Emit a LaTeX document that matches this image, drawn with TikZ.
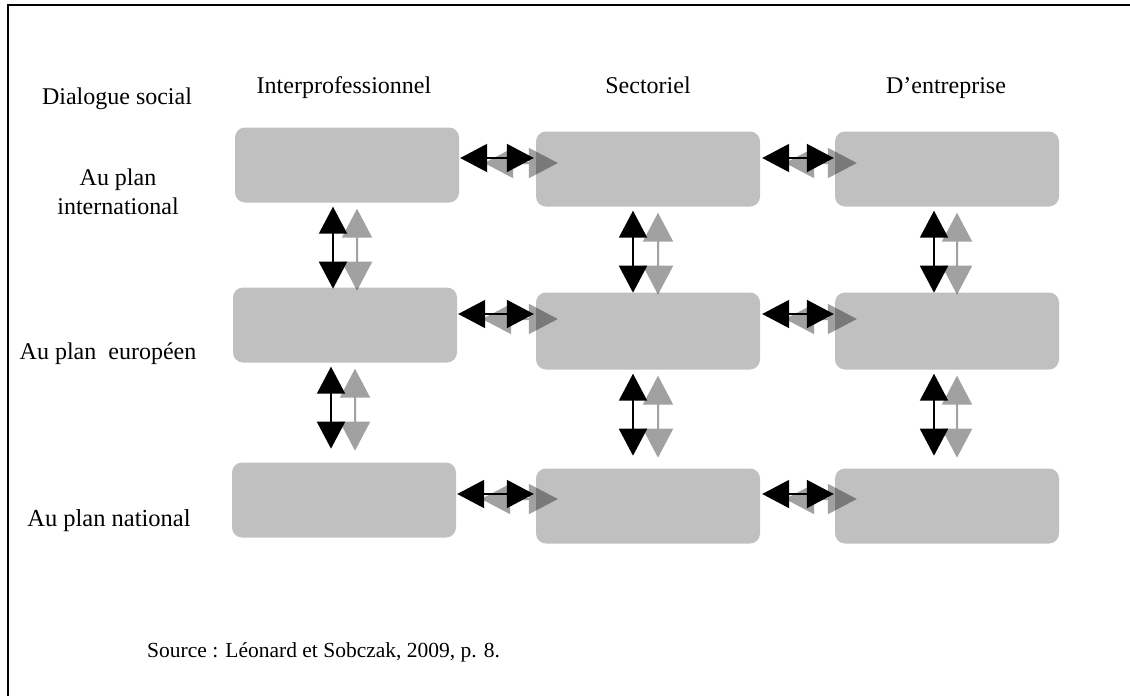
\documentclass[tikz,border=0pt]{standalone}
\usepackage{fontspec}
\setmainfont{Liberation Serif}
\usetikzlibrary{arrows.meta,calc}
\definecolor{boxgray}{HTML}{C0C0C0}
\begin{document}
\begin{tikzpicture}[x=1pt,y=-1pt,
    cell/.style={fill=boxgray,rounded corners=10pt,minimum width=224pt,minimum height=75pt,inner sep=0pt},
    lbl/.style={font=\fontsize{24}{29}\selectfont,align=center,inner sep=0pt},
    blk/.style={line width=2pt,{Triangle[length=27pt,width=28pt]}-{Triangle[length=27pt,width=28pt]}},
    gry/.style={line width=2pt,{Triangle[length=29pt,width=30pt]}-{Triangle[length=29pt,width=30pt]}}]
    \useasboundingbox (0,0) rectangle (1130,696);
    \draw[line width=2pt] (7.5,696) -- (7.5,4.5) -- (1130,4.5);

    % headings
    \node[lbl,anchor=base] (dlg) at (117,104) {Dialogue social};
    \node[lbl,anchor=base] (interp) at (344,93) {Interprofessionnel};
    \node[lbl,anchor=base] (sect) at (648,93) {Sectoriel};
    \node[lbl,anchor=base] (entr) at (946,93) {D’entreprise};

    \node[lbl] (intl) at (118,192) {Au plan\\international};
    \node[lbl] (euro) at (108,354) {Au plan\ \ européen};
    \node[lbl,font=\fontsize{24.5}{29}\selectfont] (natl) at (109,521) {Au plan national};

    % boxes
    \node[cell] (A1) at (347,165) {};
    \node[cell] (B1) at (648,169) {};
    \node[cell] (C1) at (947,169) {};

    \node[cell] (A2) at (345,325) {};
    \node[cell,minimum height=77pt] (B2) at (648,331) {};
    \node[cell,minimum height=77pt] (C2) at (947,331) {};

    \node[cell] (A3) at (344,500) {};
    \node[cell] (B3) at (648,506) {};
    \node[cell] (C3) at (947,506) {};

    % grey arrows
    \begin{scope}[transparency group,opacity=0.37]
    \draw[gry] ($(A1.east)+(25,-2)$) -- ($(A1.east -| B1.west)+(22,-2)$);
    \draw[gry] ($(A1.east -| B1.east)+(25,-2)$) -- ($(A1.east -| C1.west)+(22,-2)$);
    \draw[gry] ($(A2.east)+(25,-6)$) -- ($(A2.east -| B2.west)+(22,-6)$);
    \draw[gry] ($(A2.east -| B2.east)+(25,-6)$) -- ($(A2.east -| C2.west)+(22,-6)$);
    \draw[gry] ($(A3.east)+(25,-1)$) -- ($(A3.east -| B3.west)+(22,-1)$);
    \draw[gry] ($(A3.east -| B3.east)+(25,-1)$) -- ($(A3.east -| C3.west)+(22,-1)$);

    \draw[gry] ($(A1.south)+(10,6)$) -- ($(A1.south)+(10,88)$);
    \draw[gry] ($(B1.south)+(10,6)$) -- ($(B1.south)+(10,88)$);
    \draw[gry] ($(C1.south)+(10,6)$) -- ($(C1.south)+(10,88)$);
    \draw[gry] ($(A2.south)+(10,6)$) -- ($(A2.south)+(10,88)$);
    \draw[gry] ($(B2.south)+(10,6)$) -- ($(B2.south)+(10,88)$);
    \draw[gry] ($(C2.south)+(10,6)$) -- ($(C2.south)+(10,88)$);
    \end{scope}

    % black arrows
    \draw[blk] ($(A1.east)+(1,-7)$) -- ($(A1.east -| B1.west)+(-2,-7)$);
    \draw[blk] ($(A1.east -| B1.east)+(2,-7)$) -- ($(A1.east -| C1.west)+(-1,-7)$);
    \draw[blk] ($(A2.east)+(1,-11)$) -- ($(A2.east -| B2.west)+(-2,-11)$);
    \draw[blk] ($(A2.east -| B2.east)+(2,-11)$) -- ($(A2.east -| C2.west)+(-1,-11)$);
    \draw[blk] ($(A3.east)+(1,-6)$) -- ($(A3.east -| B3.west)+(-2,-6)$);
    \draw[blk] ($(A3.east -| B3.east)+(2,-6)$) -- ($(A3.east -| C3.west)+(-1,-6)$);

    \draw[blk] ($(A1.south)+(-14,4)$) -- ($(A1.south)+(-14,86)$);
    \draw[blk] ($(B1.south)+(-15,4)$) -- ($(B1.south)+(-15,86)$);
    \draw[blk] ($(C1.south)+(-13,4)$) -- ($(C1.south)+(-13,86)$);
    \draw[blk] ($(A2.south)+(-14,4)$) -- ($(A2.south)+(-14,86)$);
    \draw[blk] ($(B2.south)+(-15,4)$) -- ($(B2.south)+(-15,86)$);
    \draw[blk] ($(C2.south)+(-13,4)$) -- ($(C2.south)+(-13,86)$);

    \node[lbl,anchor=base west,font=\fontsize{21.5}{26}\selectfont] (src) at (147,657) {Source : Léonard et Sobczak, 2009, p. 8.};
\end{tikzpicture}
\end{document}
